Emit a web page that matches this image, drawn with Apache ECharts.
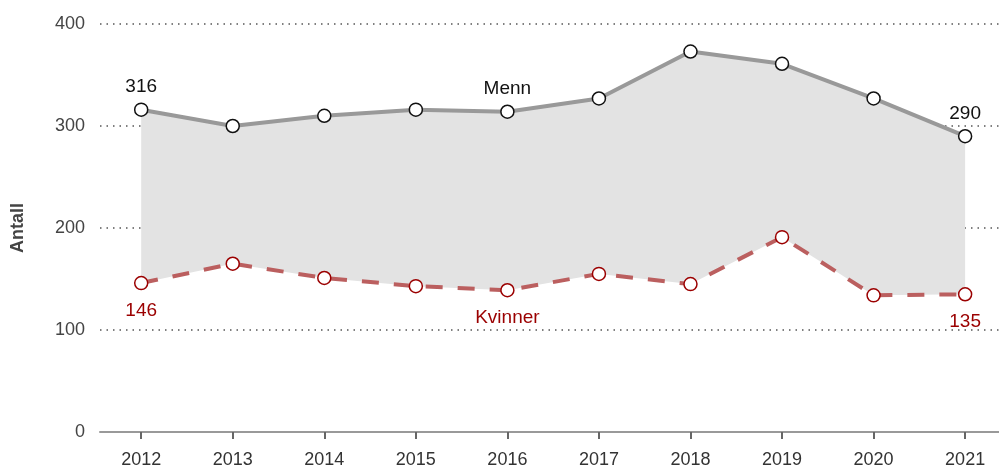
<!DOCTYPE html>
<html>
<head>
<meta charset="utf-8">
<script src="https://cdn.jsdelivr.net/npm/echarts@6/dist/echarts.min.js"></script>
<style>
  html, body { margin: 0; padding: 0; background: #fff; }
  #chart { width: 999px; height: 472px; }
</style>
</head>
<body>
<div id="chart"></div>
<script>
const years = [2012, 2013, 2014, 2015, 2016, 2017, 2018, 2019, 2020, 2021]
const menn = [316, 300, 310, 316, 314, 327, 373, 361, 327, 290]
const kvinner = [146, 165, 151, 143, 139, 155, 145, 191, 134, 135]
const yTicks = [0, 100, 200, 300, 400]

// hvilke punkter som får etikett
const mennLabels = { 0: '316', 4: 'Menn', 9: '290' }
const kvinnerLabels = { 0: '146', 4: 'Kvinner', 9: '135' }

const chart = echarts.init(document.getElementById('chart'))

const font = 'Liberation Sans, Arial, sans-serif'

const pairs = (arr) => years.map((y, i) => [y, arr[i]])

// grått felt mellom menn og kvinner
function renderBand(params, api) {
  if (params.dataIndex !== 0) return
  const top = years.map((y, i) => api.coord([y, menn[i]]))
  const bottom = years.map((y, i) => api.coord([y, kvinner[i]])).reverse()
  return {
    type: 'polygon',
    shape: { points: top.concat(bottom) },
    style: { fill: '#e3e3e3' },
    silent: true
  }
}

const option = {
  backgroundColor: '#fff',
  animation: false,
  textStyle: { fontFamily: font },
  grid: { left: 100, right: 0, top: 24, bottom: 40 },
  xAxis: {
    type: 'value',
    min: 2011.55,
    max: 2021.37,
    splitLine: { show: false },
    axisLine: { show: true, lineStyle: { color: '#999', width: 2 } },
    axisTick: { show: true, customValues: years, length: 7, lineStyle: { color: '#666', width: 2 } },
    axisLabel: {
      customValues: years,
      formatter: (v) => String(v),
      color: '#333',
      fontSize: 18,
      margin: 19,
      fontFamily: font
    }
  },
  yAxis: {
    type: 'value',
    min: yTicks[0],
    max: yTicks[yTicks.length - 1],
    interval: 100,
    name: 'Antall',
    nameLocation: 'middle',
    nameGap: 73,
    nameTextStyle: { color: '#444', fontSize: 18, fontWeight: 'bold', fontFamily: font },
    axisLine: { show: false },
    axisTick: { show: false },
    axisLabel: { color: '#444', fontSize: 18, margin: 15, fontFamily: font },
    splitLine: { show: true, lineStyle: { color: '#555', width: 1.5, type: [1.5, 5] } }
  },
  series: [
    {
      name: 'band',
      type: 'custom',
      renderItem: renderBand,
      data: pairs(menn),
      encode: { x: 0, y: 1 },
      silent: true,
      z: 1
    },
    {
      name: 'Menn',
      type: 'line',
      data: years.map((y, i) => {
        const item = { value: [y, menn[i]] }
        if (mennLabels[i]) {
          item.label = { show: true, position: 'top', distance: 6, formatter: mennLabels[i] }
        }
        return item
      }),
      lineStyle: { color: '#999', width: 4 },
      symbol: 'circle',
      symbolSize: 13,
      showAllSymbol: true,
      itemStyle: { color: '#fff', borderColor: '#111', borderWidth: 1.5 },
      label: { color: '#111', fontSize: 19, fontFamily: font },
      z: 3
    },
    {
      name: 'Kvinner',
      type: 'line',
      data: years.map((y, i) => {
        const item = { value: [y, kvinner[i]] }
        if (kvinnerLabels[i]) {
          item.label = { show: true, position: 'bottom', distance: 11, formatter: kvinnerLabels[i] }
        }
        return item
      }),
      lineStyle: { color: '#bb5f5f', width: 4, type: [17, 15] },
      symbol: 'circle',
      symbolSize: 13,
      showAllSymbol: true,
      itemStyle: { color: '#fff', borderColor: '#9b0000', borderWidth: 1.5 },
      label: { color: '#9b0000', fontSize: 19, fontFamily: font },
      z: 3
    }
  ]
}

chart.setOption(option)
</script>
</body>
</html>
